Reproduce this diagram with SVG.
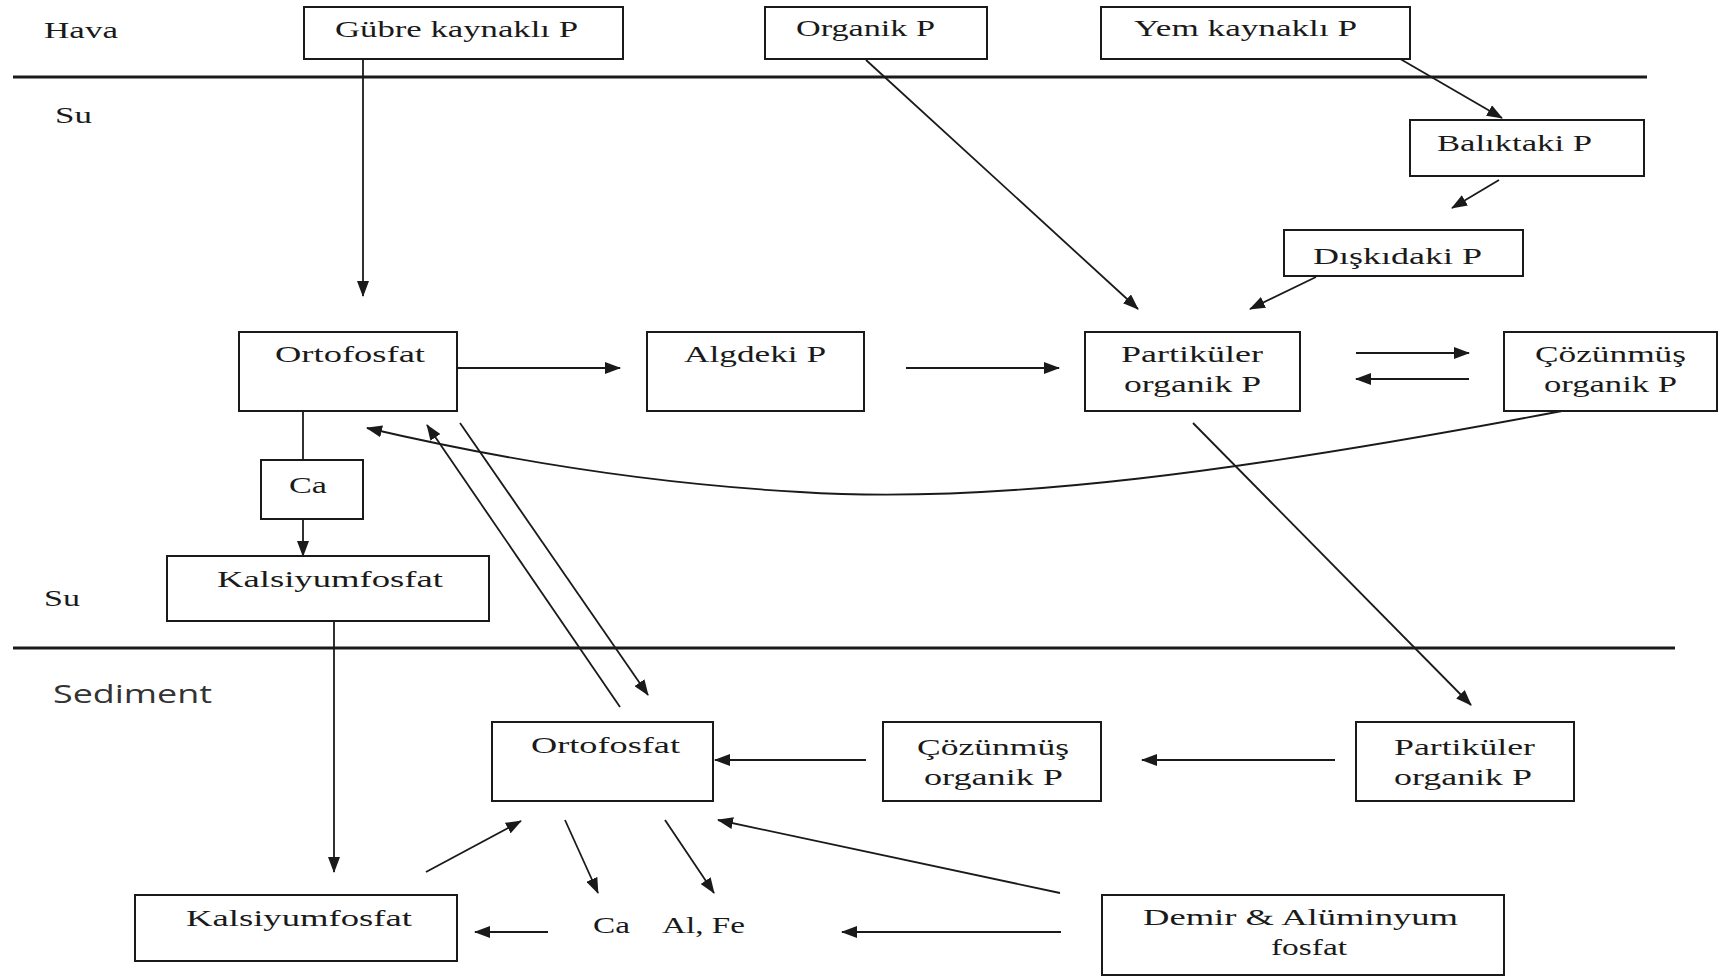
<svg xmlns="http://www.w3.org/2000/svg" width="1719" height="978" viewBox="0 0 1719 978">
<defs>
<marker id="ah" viewBox="0 0 16 12" refX="15" refY="6" markerWidth="16" markerHeight="12" markerUnits="userSpaceOnUse" orient="auto">
<path d="M0,0 L16,6 L0,12 z" fill="#1a1a1a"/>
</marker>
</defs>
<style>
.box{fill:#fff;stroke:#1a1a1a;stroke-width:2}
.t{font-family:"Liberation Serif","Times New Roman",serif;font-size:23px;fill:#1a1a1a}
.s{font-family:"Open Sans","Liberation Sans",sans-serif;font-size:25px;fill:#333}
.c{fill:none;stroke:#1a1a1a;stroke-width:1.8}
.a{fill:none;stroke:#1a1a1a;stroke-width:1.8;marker-end:url(#ah)}
.sep{stroke:#1a1a1a;stroke-width:3}
</style>
<rect width="1719" height="978" fill="#fff"/>
<g id="layers">
<line class="sep" x1="13" y1="77" x2="1647" y2="77"/>
<line class="sep" x1="13" y1="648" x2="1675" y2="648"/>
<text class="t" x="44" y="38" textLength="74" lengthAdjust="spacingAndGlyphs">Hava</text>
<text class="t" x="55" y="123" textLength="37" lengthAdjust="spacingAndGlyphs">Su</text>
<text class="t" x="44" y="606" textLength="36" lengthAdjust="spacingAndGlyphs">Su</text>
<text class="s" x="53" y="703" textLength="159" lengthAdjust="spacingAndGlyphs">Sediment</text>
</g>
<g id="connectors">
<line class="a" x1="363" y1="59" x2="363" y2="296"/>
<line class="a" x1="866" y1="60" x2="1138" y2="309"/>
<line class="a" x1="1390" y1="53" x2="1502" y2="118"/>
<line class="a" x1="1499" y1="180" x2="1452" y2="208"/>
<line class="a" x1="1316" y1="277" x2="1250" y2="309"/>
<line class="a" x1="457" y1="368" x2="620" y2="368"/>
<line class="a" x1="906" y1="368" x2="1059" y2="368"/>
<line class="a" x1="1356" y1="353" x2="1469" y2="353"/>
<line class="a" x1="1469" y1="379" x2="1356" y2="379"/>
<path class="a" d="M1562,411 C1250,470 1000,505 800,492 C620,482 470,452 367,428"/>
<line class="c" x1="303" y1="411" x2="303" y2="460"/>
<line class="a" x1="303" y1="519" x2="303" y2="556"/>
<line class="a" x1="620" y1="707" x2="427" y2="425"/>
<line class="a" x1="460" y1="423" x2="648" y2="695"/>
<line class="a" x1="334" y1="621" x2="334" y2="872"/>
<line class="a" x1="866" y1="760" x2="715" y2="760"/>
<line class="a" x1="1335" y1="760" x2="1142" y2="760"/>
<line class="a" x1="1193" y1="423" x2="1471" y2="705"/>
<line class="a" x1="426" y1="872" x2="521" y2="821"/>
<line class="a" x1="565" y1="820" x2="598" y2="893"/>
<line class="a" x1="665" y1="820" x2="714" y2="893"/>
<line class="a" x1="1060" y1="893" x2="718" y2="820"/>
<line class="a" x1="1061" y1="932" x2="842" y2="932"/>
<line class="a" x1="548" y1="932" x2="475" y2="932"/>
</g>
<g id="gubre"><rect class="box" x="304" y="7" width="319" height="52"/><text class="t" x="335" y="37" textLength="243" lengthAdjust="spacingAndGlyphs">Gübre kaynaklı P</text></g>
<g id="organik"><rect class="box" x="765" y="7" width="222" height="52"/><text class="t" x="796" y="36" textLength="139" lengthAdjust="spacingAndGlyphs">Organik P</text></g>
<g id="yem"><rect class="box" x="1101" y="7" width="309" height="52"/><text class="t" x="1134" y="36" textLength="223" lengthAdjust="spacingAndGlyphs">Yem kaynaklı P</text></g>
<g id="baliktaki"><rect class="box" x="1410" y="120" width="234" height="56"/><text class="t" x="1437" y="151" textLength="155" lengthAdjust="spacingAndGlyphs">Balıktaki P</text></g>
<g id="diskidaki"><rect class="box" x="1284" y="230" width="239" height="46"/><text class="t" x="1313" y="264" textLength="169" lengthAdjust="spacingAndGlyphs">Dışkıdaki P</text></g>
<g id="ortofosfat-su"><rect class="box" x="239" y="332" width="218" height="79"/><text class="t" x="275" y="362" textLength="150" lengthAdjust="spacingAndGlyphs">Ortofosfat</text></g>
<g id="algdeki"><rect class="box" x="647" y="332" width="217" height="79"/><text class="t" x="684" y="362" textLength="142" lengthAdjust="spacingAndGlyphs">Algdeki P</text></g>
<g id="partikuler-su"><rect class="box" x="1085" y="332" width="215" height="79"/><text class="t" x="1121" y="362" textLength="142" lengthAdjust="spacingAndGlyphs">Partiküler</text><text class="t" x="1124" y="392" textLength="137" lengthAdjust="spacingAndGlyphs">organik P</text></g>
<g id="cozunmus-su"><rect class="box" x="1504" y="332" width="213" height="79"/><text class="t" x="1535" y="362" textLength="151" lengthAdjust="spacingAndGlyphs">Çözünmüş</text><text class="t" x="1544" y="392" textLength="133" lengthAdjust="spacingAndGlyphs">organik P</text></g>
<g id="ca-su"><rect class="box" x="261" y="460" width="102" height="59"/><text class="t" x="289" y="493" textLength="38" lengthAdjust="spacingAndGlyphs">Ca</text></g>
<g id="kalsiyum-su"><rect class="box" x="167" y="556" width="322" height="65"/><text class="t" x="217" y="587" textLength="226" lengthAdjust="spacingAndGlyphs">Kalsiyumfosfat</text></g>
<g id="ortofosfat-sed"><rect class="box" x="492" y="722" width="221" height="79"/><text class="t" x="531" y="753" textLength="149" lengthAdjust="spacingAndGlyphs">Ortofosfat</text></g>
<g id="cozunmus-sed"><rect class="box" x="883" y="722" width="218" height="79"/><text class="t" x="917" y="755" textLength="152" lengthAdjust="spacingAndGlyphs">Çözünmüş</text><text class="t" x="924" y="785" textLength="139" lengthAdjust="spacingAndGlyphs">organik P</text></g>
<g id="partikuler-sed"><rect class="box" x="1356" y="722" width="218" height="79"/><text class="t" x="1394" y="755" textLength="141" lengthAdjust="spacingAndGlyphs">Partiküler</text><text class="t" x="1394" y="785" textLength="138" lengthAdjust="spacingAndGlyphs">organik P</text></g>
<g id="kalsiyum-sed"><rect class="box" x="135" y="895" width="322" height="66"/><text class="t" x="186" y="926" textLength="226" lengthAdjust="spacingAndGlyphs">Kalsiyumfosfat</text></g>
<g id="ca-alfe"><text class="t" x="593" y="933" textLength="37" lengthAdjust="spacingAndGlyphs">Ca</text><text class="t" x="662" y="933" textLength="83" lengthAdjust="spacingAndGlyphs">Al, Fe</text></g>
<g id="demir"><rect class="box" x="1102" y="895" width="402" height="80"/><text class="t" x="1143" y="925" textLength="315" lengthAdjust="spacingAndGlyphs">Demir &amp; Alüminyum</text><text class="t" x="1271" y="955" textLength="76" lengthAdjust="spacingAndGlyphs">fosfat</text></g>
</svg>
